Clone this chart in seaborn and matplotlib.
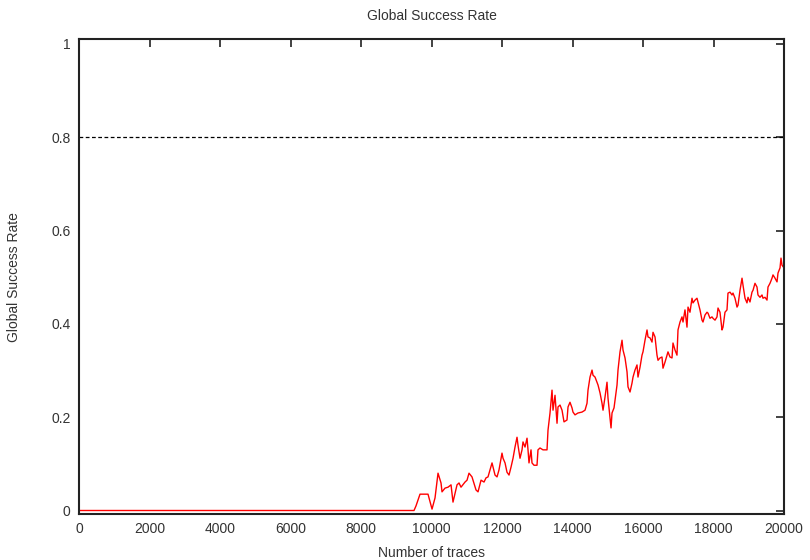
import matplotlib
matplotlib.use("Agg")
import matplotlib.pyplot as plt
import seaborn as sns
import pandas as pd

# Data (number of traces vs global success rate)
traces = [0, 9504, 9561, 9674, 9901, 10015, 10100, 10185, 10270, 10298, 10384, 10469, 10554,
          10610, 10667, 10724, 10781, 10837, 10951, 11008, 11064, 11149, 11263, 11320, 11405,
          11490, 11547, 11603, 11660, 11717, 11802, 11859, 11915, 12000, 12029, 12086, 12142,
          12199, 12256, 12313, 12369, 12426, 12454, 12511, 12568, 12596, 12653, 12710, 12738,
          12766, 12823, 12851, 12908, 12993, 13021, 13078, 13163, 13277, 13305, 13362, 13419,
          13447, 13504, 13561, 13589, 13646, 13703, 13759, 13844, 13873, 13929, 13986, 14014,
          14071, 14156, 14270, 14355, 14412, 14440, 14497, 14554, 14582, 14639, 14696, 14724,
          14781, 14837, 14866, 14922, 14979, 15007, 15064, 15093, 15121, 15178, 15263, 15291,
          15348, 15405, 15433, 15490, 15547, 15575, 15632, 15688, 15717, 15773, 15830, 15858,
          15915, 15972, 16000, 16057, 16114, 16142, 16199, 16256, 16284, 16341, 16397, 16426,
          16482, 16539, 16567, 16624, 16681, 16709, 16766, 16823, 16851, 16908, 16964, 16993,
          17050, 17106, 17135, 17191, 17248, 17277, 17333, 17390, 17419, 17475, 17532, 17560,
          17617, 17674, 17702, 17759, 17816, 17844, 17901, 17957, 17986, 18043, 18099, 18128,
          18184, 18241, 18270, 18326, 18383, 18411, 18468, 18525, 18553, 18610, 18667, 18695,
          18752, 18809, 18837, 18894, 18950, 18979, 19035, 19092, 19121, 19177, 19234, 19262,
          19319, 19376, 19404, 19461, 19518, 19546, 19603, 19660, 19688, 19745, 19802, 19830,
          19887, 19915, 19943, 20000]
success = [0.0, 0.0, 0.010, 0.035, 0.035, 0.003, 0.027, 0.080, 0.059, 0.040, 0.048, 0.050, 0.055,
           0.018, 0.037, 0.055, 0.059, 0.050, 0.061, 0.065, 0.080, 0.072, 0.044, 0.040, 0.065,
           0.061, 0.070, 0.072, 0.087, 0.102, 0.076, 0.072, 0.087, 0.123, 0.112, 0.102, 0.082,
           0.076, 0.093, 0.112, 0.136, 0.157, 0.140, 0.112, 0.130, 0.147, 0.136, 0.155, 0.130,
           0.102, 0.130, 0.102, 0.097, 0.097, 0.130, 0.134, 0.130, 0.130, 0.172, 0.209, 0.258,
           0.215, 0.247, 0.187, 0.222, 0.226, 0.215, 0.190, 0.194, 0.222, 0.232, 0.220, 0.211,
           0.205, 0.209, 0.211, 0.215, 0.230, 0.258, 0.286, 0.301, 0.290, 0.286, 0.275, 0.269,
           0.252, 0.230, 0.215, 0.243, 0.275, 0.241, 0.200, 0.177, 0.209, 0.220, 0.269, 0.301,
           0.340, 0.365, 0.344, 0.327, 0.297, 0.265, 0.254, 0.273, 0.286, 0.301, 0.312, 0.286,
           0.307, 0.333, 0.340, 0.365, 0.387, 0.372, 0.370, 0.361, 0.382, 0.372, 0.333, 0.322,
           0.327, 0.329, 0.305, 0.318, 0.333, 0.340, 0.329, 0.327, 0.359, 0.344, 0.333, 0.387,
           0.404, 0.415, 0.404, 0.430, 0.393, 0.436, 0.425, 0.455, 0.445, 0.451, 0.455, 0.447,
           0.430, 0.408, 0.404, 0.419, 0.425, 0.423, 0.412, 0.415, 0.412, 0.408, 0.415, 0.434,
           0.425, 0.387, 0.393, 0.425, 0.430, 0.466, 0.468, 0.462, 0.466, 0.455, 0.436, 0.440,
           0.472, 0.498, 0.483, 0.455, 0.445, 0.457, 0.447, 0.468, 0.472, 0.487, 0.479, 0.462,
           0.457, 0.462, 0.455, 0.457, 0.451, 0.479, 0.487, 0.498, 0.505, 0.498, 0.490, 0.509,
           0.520, 0.541, 0.526, 0.520]
target_rate = 0.8
x_ticks = [0, 2000, 4000, 6000, 8000, 10000, 12000, 14000, 16000, 18000, 20000]
y_ticks = [0, 0.2, 0.4, 0.6, 0.8, 1.0]
y_tick_labels = ["0", "0.2", "0.4", "0.6", "0.8", "1"]

sns.set_theme(style="white")
plt.rcParams['font.family'] = ['Liberation Sans', 'DejaVu Sans']

df = pd.DataFrame({"traces": traces, "success": success})

fig = plt.figure(figsize=(8.1, 5.6), dpi=100)
ax = fig.add_axes([79 / 810, 1 - 514 / 560, 705 / 810, (514 - 39.3) / 560])

sns.lineplot(data=df, x="traces", y="success", ax=ax, color="#ff0000", linewidth=1.0)
ax.axhline(target_rate, color="black", linestyle=(0, (3, 2)), linewidth=0.9)

ax.set_xlim(0, 20000)
ax.set_ylim(-0.0075, 1.01)
ax.set_xticks(x_ticks)
ax.set_xticklabels([str(t) for t in x_ticks])
ax.set_yticks(y_ticks)
ax.set_yticklabels(y_tick_labels)

text_color = "#333333"
ax.tick_params(axis="both", direction="in", length=6, width=1.2, color="#222222",
               labelsize=10, labelcolor=text_color, top=True, right=True, pad=6)
for s in ax.spines.values():
    s.set_visible(True)
    s.set_color("#222222")
    s.set_linewidth(1.5)

ax.set_xlabel("Number of traces", fontsize=10, color=text_color, labelpad=7)
ax.set_ylabel("Global Success Rate", fontsize=10, color=text_color, labelpad=22)
ax.set_title("Global Success Rate", fontsize=10, color=text_color, pad=14)

fig.savefig("out.png", dpi=100)
